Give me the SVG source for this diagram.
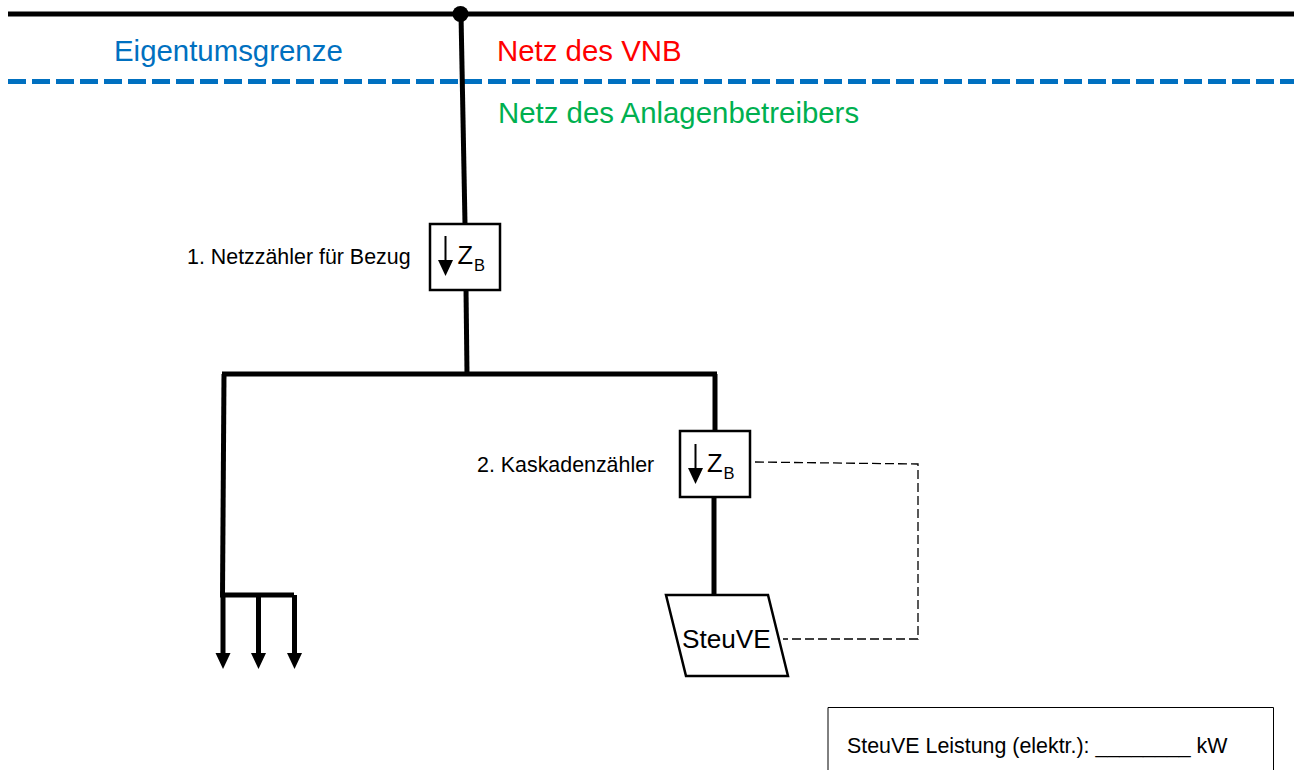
<svg xmlns="http://www.w3.org/2000/svg" width="1299" height="770" viewBox="0 0 1299 770">
<style>
text{font-family:"Liberation Sans",Arial,sans-serif;fill:#000}
.w{fill:none;stroke:#000;stroke-width:5}
.box{fill:#fff;stroke:#000;stroke-width:2.5}
.arr{fill:none;stroke:#000;stroke-width:2}
.ctl{fill:none;stroke:#000;stroke-width:1.3;stroke-dasharray:9 4}
.big{font-size:29.4px}
.sm{font-size:21.4px}
.z{font-size:25.5px}
.b{font-size:16.5px}
</style>
<defs>
<marker id="ah" markerUnits="userSpaceOnUse" markerWidth="18" markerHeight="18" refX="1" refY="8" orient="auto"><path d="M0 0.500L16 8L0 15.500Z" fill="#000"/></marker>
</defs>
<rect width="1299" height="770" fill="#fff"/>
<g id="connectors">
<path class="w" d="M8 14H1294"/>
<path d="M8 81.500H1294" fill="none" stroke="#0070c0" stroke-width="5" stroke-dasharray="18 6"/>
<path class="w" d="M461 14L465 224"/>
<path class="w" d="M466 289L467 374"/>
<path class="w" d="M222 374H717"/>
<path class="w" d="M224 374L222.500 596"/>
<path class="w" d="M715 374V432"/>
<path class="w" d="M714 497V595"/>
<path class="w" d="M220 595H294"/>
<path class="w" d="M223 595V654" marker-end="url(#ah)"/>
<path class="w" d="M258.500 595V654" marker-end="url(#ah)"/>
<path class="w" d="M294.500 595V654" marker-end="url(#ah)"/>
<path class="ctl" d="M755 462L918 464V639H783"/>
</g>
<circle id="junction" cx="460.500" cy="14" r="8" fill="#000"/>
<g id="labels">
<text class="big" x="114" y="61" style="fill:#0070c0">Eigentumsgrenze</text>
<text class="big" x="497" y="61" style="fill:#ff0000">Netz des VNB</text>
<text class="big" x="498" y="123" style="fill:#00b050">Netz des Anlagenbetreibers</text>
<text class="sm" x="187" y="264">1. Netzzähler für Bezug</text>
<text class="sm" x="477" y="472">2. Kaskadenzähler</text>
</g>
<g id="meter-1">
<rect class="box" x="430" y="224" width="70" height="66"/>
<path class="arr" d="M445.500 236V261" marker-end="url(#ah)"/>
<text class="z" x="457.500" y="264">Z</text><text class="b" x="474" y="271">B</text>
</g>
<g id="meter-2">
<rect class="box" x="680" y="431" width="70" height="66"/>
<path class="arr" d="M695.500 444V469" marker-end="url(#ah)"/>
<text class="z" x="707" y="472">Z</text><text class="b" x="723.500" y="479">B</text>
</g>
<g id="steuve">
<path class="box" d="M666 595H768L788 676H686Z"/>
<text x="682" y="648" style="font-size:26.200px">SteuVE</text>
</g>
<g id="legend">
<path d="M828 770V707.500H1273.500V770" fill="none" stroke="#000" stroke-width="1"/>
<text class="sm" x="847" y="753">SteuVE Leistung (elektr.): ________ kW</text>
</g>
</svg>
